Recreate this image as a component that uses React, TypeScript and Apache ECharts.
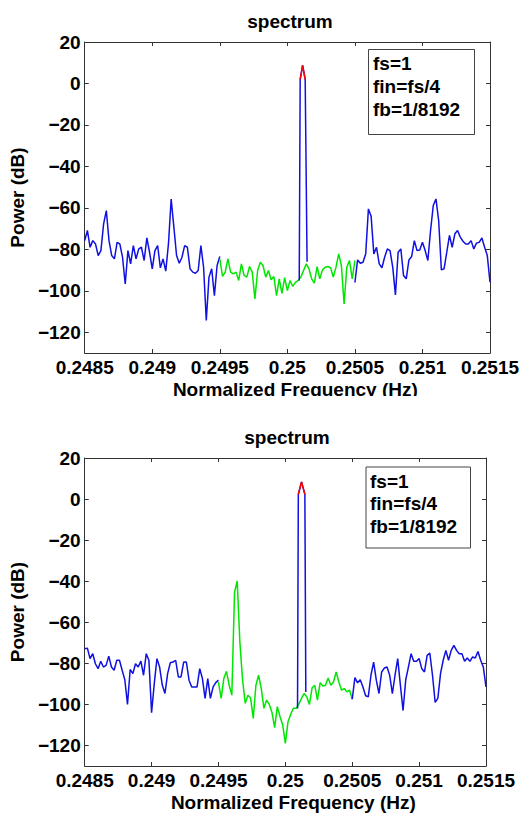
import React, { useEffect, useRef } from "react";
import * as echarts from "echarts";

// ---- data ----
const fStart = 0.2485;
const fStep = 0.00002;
const xTicks = [0.2485, 0.249, 0.2495, 0.25, 0.2505, 0.251, 0.2515];
const yTicks = [-120, -100, -80, -60, -40, -20, 0, 20];
const legendLines = ["fs=1", "fin=fs/4", "fb=1/8192"];

// top subplot
const topLeft = [-75.8, -70.9, -79, -75.8, -77.4, -83, -80.6, -67.7, -61.3, -75.8, -83, -84.6, -76.6, -77.4, -83.8, -96.7, -80.6, -87, -78.2, -84.6, -79.8, -79, -85.4, -74.5, -81.4, -89.4, -80.6, -78.2, -88.9, -84.6, -90.5, -77.4, -55.7, -69.3, -83, -86.7, -83.8, -78.2, -79, -89.4, -91, -91.5, -90.2, -78.2, -88.6, -114.3, -93.4, -89.4, -102.3, -87.8, -83.5];
const topGreen = [-84.6, -93, -91, -84.6, -91, -91.8, -91, -95, -87, -92.6, -93.4, -88.3, -91, -103.9, -90.2, -86.2, -87.8, -93.4, -90.2, -94.7, -93.1, -102.3, -94.2, -101.2, -93.6, -99.9, -95, -97.9, -95.9, -95, -93.4, -90.2, -87, -89.4, -94.2, -96.3, -88.3, -94.2, -89.9, -88.6, -88.3, -88.9, -93.4, -88.6, -82.2, -87.8, -106.3, -88.6, -85.4, -94.2, -85.4];
const topRight = [-96, -85.1, -86.7, -86.2, -82.2, -60.5, -64, -82.2, -79, -87, -88.9, -83.8, -79.8, -80.6, -88.6, -102, -81.4, -79.8, -92.6, -94.2, -85.1, -83.5, -75.8, -80.6, -80.3, -76.6, -80.6, -85.4, -70.9, -58.9, -55.7, -66.1, -89.9, -89.4, -81.4, -73.3, -79, -72.5, -70.9, -74.1, -76.1, -77.4, -77.4, -75.8, -79.8, -77, -76.6, -74.5, -79, -83, -95.9];
const topPeakF = [0.250088, 0.250095, 0.250113, 0.250132, 0.250146];
const topPeakV = [-95, 2, 8.7, 2, -86];

// bottom subplot
const botLeft = [-72.9, -72.6, -77.7, -75.3, -80.2, -82.6, -79, -81.8, -81, -76.5, -81.8, -83.4, -78.5, -78.5, -83.4, -88, -100, -83, -85, -80.2, -81.8, -78.9, -85.8, -75.3, -78.5, -104, -90, -77.7, -81.8, -90.6, -94.7, -85, -79.7, -79.4, -78.5, -86.6, -86.6, -79.4, -79.4, -88.2, -91.5, -91.5, -91.5, -82.6, -87.4, -97.1, -87.4, -97.1, -91.5, -89.4, -88.2];
const botGreen = [-89.1, -97.1, -87.4, -83.9, -90.7, -95.5, -45.5, -39.9, -69.7, -87.8, -99.5, -95.5, -96.8, -106.8, -90.7, -85.8, -92.3, -101.9, -97.9, -100, -103.9, -111.3, -101.1, -105.9, -110, -119, -108.4, -104.8, -101.9, -101.9, -100, -97.1, -94.7, -96.3, -100, -91.9, -90.7, -97.9, -89.4, -91, -90.7, -87.1, -90.7, -89.1, -84.2, -89.1, -93.1, -92.3, -93.9, -93, -97.5];
const botRight = [-97.5, -87, -89.5, -88, -91.5, -95.8, -96.3, -85.8, -79.4, -88.2, -94.7, -84.2, -82.3, -81.8, -85.8, -94.7, -85.8, -77.7, -90.6, -103, -88, -81.8, -75.3, -79, -79, -77.7, -82.6, -84.2, -76.1, -75, -85.8, -99, -97.1, -85, -78.5, -73.7, -78.5, -73.7, -71.3, -73.7, -75.3, -75.3, -79, -77.4, -79, -76.9, -77.4, -74.2, -78.5, -81.8, -91.5];
const botPeakF = [0.250091, 0.250097, 0.250121, 0.250146, 0.250153];
const botPeakV = [-102, 2.3, 8.4, 2.3, -94];

const font = "'Liberation Sans', Arial, Helvetica, sans-serif";
const BLUE = "#1010e0";
const GREEN = "#00e600";
const RED = "#ff0000";

function seg(values: number[], offsetBins: number) {
  return values.map((v, i) => [+(fStart + (offsetBins + i) * fStep).toFixed(6), v]);
}
function pairs(fs: number[], vs: number[]) {
  return fs.map((f, i) => [f, vs[i]]);
}

const fmtX = (v: number) => String(Number(v.toFixed(4)));
const fmtY = (v: number) => (v < 0 ? "\u2212" + Math.abs(v) : String(v));

function axesFor(g: number) {
  const common = {
    type: "value",
    gridIndex: g,
    splitLine: { show: false },
    axisLine: { show: true, onZero: false, lineStyle: { color: "#333", width: 1 } },
  };
  const lbl = { color: "#000", fontSize: 19, fontWeight: "bold", fontFamily: font };
  const xs = [
    {
      ...common,
      position: "bottom",
      min: 0.2485,
      max: 0.2515,
      axisTick: { show: true, inside: true, length: 4, customValues: xTicks, lineStyle: { color: "#333" } },
      axisLabel: { show: true, customValues: xTicks, formatter: fmtX, margin: 5, ...lbl },
      name: "Normalized Frequency (Hz)",
      nameLocation: "middle",
      nameGap: 27,
      nameTextStyle: { ...lbl, padding: [0, 0, 0, 16] },
    },
    {
      ...common,
      position: "top",
      min: 0.2485,
      max: 0.2515,
      axisTick: { show: true, inside: true, length: 4, customValues: xTicks, lineStyle: { color: "#333" } },
      axisLabel: { show: false },
    },
  ];
  const ys = [
    {
      ...common,
      position: "left",
      min: -130,
      max: 20,
      axisTick: { show: true, inside: true, length: 4, customValues: yTicks, lineStyle: { color: "#333" } },
      axisLabel: { show: true, customValues: yTicks, formatter: fmtY, margin: 4, ...lbl },
      name: "Power (dB)",
      nameLocation: "middle",
      nameRotate: 90,
      nameGap: 52,
      nameTextStyle: { ...lbl },
    },
    {
      ...common,
      position: "right",
      min: -130,
      max: 20,
      axisTick: { show: true, inside: true, length: 4, customValues: yTicks, lineStyle: { color: "#333" } },
      axisLabel: { show: false },
    },
  ];
  return { xs, ys };
}

function lineSeries(data: number[][], color: string, axisBase: number, z = 2) {
  return {
    type: "line",
    data,
    xAxisIndex: axisBase,
    yAxisIndex: axisBase,
    showSymbol: false,
    symbol: "none",
    z,
    lineStyle: { color, width: 1.5 },
    clip: true,
  };
}

export default function App() {
  const ref = useRef<HTMLDivElement>(null);
  useEffect(() => {
    if (!ref.current) return;
    const chart = echarts.init(ref.current, null, { renderer: "svg" });
    const a0 = axesFor(0);
    const a1 = axesFor(1);
    const textStyle = { fill: "#000", font: `bold 19px ${font}` };
    chart.setOption({
      animation: false,
      backgroundColor: "#fff",
      title: [
        { text: "spectrum", left: 285, top: 7, textAlign: "center", textStyle: { fontSize: 19, fontWeight: "bold", fontFamily: font, color: "#000" } },
        { text: "spectrum", left: 282, top: 423, textAlign: "center", textStyle: { fontSize: 19, fontWeight: "bold", fontFamily: font, color: "#000" } },
      ],
      grid: [
        { left: 80, top: 42, width: 410, height: 311 },
        { left: 78, top: 458, width: 408, height: 310 },
      ],
      xAxis: [...a0.xs, ...a1.xs],
      yAxis: [...a0.ys, ...a1.ys],
      series: [
        lineSeries(seg(topLeft, 0), BLUE, 0),
        lineSeries(seg(topGreen, 50), GREEN, 0),
        lineSeries(seg(topRight, 100), BLUE, 0),
        lineSeries(pairs(topPeakF, topPeakV), BLUE, 0, 3),
        lineSeries(pairs(topPeakF.slice(1, 4), topPeakV.slice(1, 4)), RED, 0, 4),
        lineSeries(seg(botLeft, 0), BLUE, 2),
        lineSeries(seg(botGreen, 50), GREEN, 2),
        lineSeries(seg(botRight, 100), BLUE, 2),
        lineSeries(pairs(botPeakF, botPeakV), BLUE, 2, 3),
        lineSeries(pairs(botPeakF.slice(1, 4), botPeakV.slice(1, 4)), RED, 2, 4),
      ],
      graphic: [
        { type: "rect", z: 100, shape: { x: 0, y: 396, width: 523, height: 26 }, style: { fill: "#fff" } },
        { type: "rect", z: 10, shape: { x: 368.5, y: 49.5, width: 106, height: 85 }, style: { fill: "#fff", stroke: "#444", lineWidth: 1 } },
        { type: "text", z: 11, x: 373, y: 51.5, style: { ...textStyle, text: legendLines.join("\n"), lineHeight: 23, verticalAlign: "top" } },
        { type: "rect", z: 10, shape: { x: 366, y: 467, width: 104.5, height: 81 }, style: { fill: "#fff", stroke: "#444", lineWidth: 1 } },
        { type: "text", z: 11, x: 370, y: 469.8, style: { ...textStyle, text: legendLines.join("\n"), lineHeight: 22.5, verticalAlign: "top" } },
      ],
    });
    return () => chart.dispose();
  }, []);
  return <div ref={ref} style={{ position: "absolute", left: 0, top: 0, width: 523, height: 813 }} />;
}
